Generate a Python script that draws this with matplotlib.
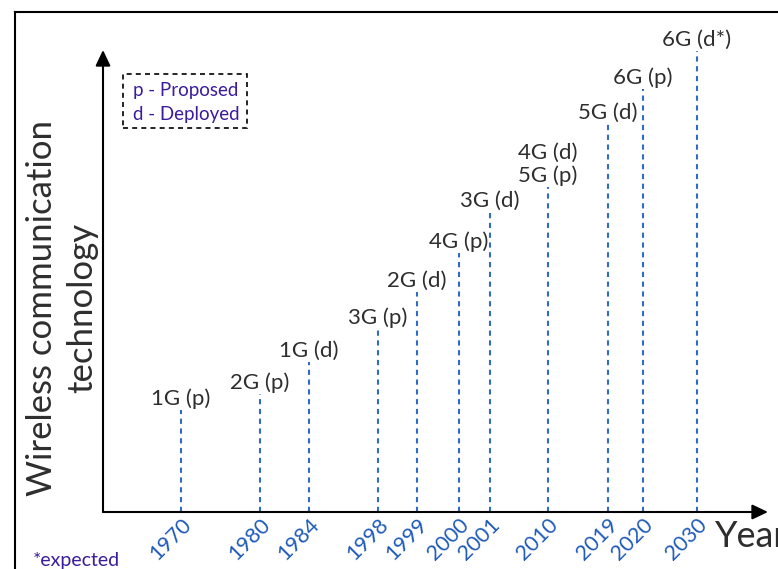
import matplotlib
matplotlib.use("Agg")
import matplotlib.pyplot as plt
from matplotlib.lines import Line2D
from matplotlib.patches import Rectangle

# timeline data
years = ["1970", "1980", "1984", "1998", "1999", "2000", "2001", "2010", "2019", "2020", "2030"]
labels = ["1G (p)", "2G (p)", "1G (d)", "3G (p)", "2G (d)", "4G (p)", "3G (d)",
          "4G (d)\n5G (p)", "5G (d)", "6G (p)", "6G (d*)"]
# position of each year along the (non-linear) timeline
slot = [78, 157, 206, 275, 314, 356, 387, 445, 505, 540, 594]
# height of each marker line (technology level)
level = [102, 118, 150, 183, 220, 259, 300, 325, 388, 423, 461]

W, H = 778, 569
plt.rcParams["font.family"] = ["Lato", "DejaVu Sans"]
blue_line = "#2f6cc4"
blue_text = "#1f5bb8"
purple = "#3b1c9c"
grey = "#2e2e2e"

fig = plt.figure(figsize=(W / 100, H / 100), dpi=100)
ax = fig.add_axes([103 / W, 1 - 512 / H, (768 - 103) / W, (512 - 50) / H])
ax.set_xlim(0, 665)
ax.set_ylim(0, 462)
for s in ax.spines.values():
    s.set_visible(False)
ax.set_yticks([])

# dashed year markers + labels
for x, h, lab in zip(slot, level, labels):
    ax.plot([x, x], [0, h], color=blue_line, lw=1.5, linestyle=(0, (2.5, 2.2)))
    ax.annotate(lab, (x, h), xytext=(0, 0.5), textcoords="offset points",
                ha="center", va="bottom", fontsize=16, color=grey, linespacing=1.15)

ax.set_xticks(slot, labels=years)
ax.tick_params(axis="x", length=0, pad=2)
for t in ax.get_xticklabels():
    t.set_rotation(45)
    t.set_rotation_mode("anchor")
    t.set_ha("right")
    t.set_va("top")
    t.set_color(blue_text)
    t.set_fontsize(15.5)

# axes arrows
arrow = dict(arrowstyle="-|>,head_length=0.95,head_width=0.45", lw=1.5, color="black",
             shrinkA=0, shrinkB=0, mutation_scale=10)
ax.annotate("", xy=(0, 1), xytext=(0, 0), xycoords="axes fraction", arrowprops=arrow,
            annotation_clip=False)
ax.annotate("", xy=(1, 0), xytext=(0, 0), xycoords="axes fraction", arrowprops=arrow,
            annotation_clip=False)

# axis titles
fig.text(62 / W, 1 - 308 / H, "Wireless communication\ntechnology", rotation=90,
         ha="center", va="center", multialignment="center", fontsize=25, color=grey,
         linespacing=1.32)
fig.text(715 / W, 1 - 547 / H, "Year", ha="left", va="baseline", fontsize=26, color=grey)
fig.text(33 / W, 1 - 566 / H, "*expected", ha="left", va="baseline", fontsize=14, color=purple)

# legend box
fig.patches.append(Rectangle((123 / W, 1 - 128 / H), 124 / W, 54 / H, transform=fig.transFigure,
                             fill=False, edgecolor="black", lw=1.2, linestyle=(0, (3, 2.5))))
fig.text(133 / W, 1 - 96 / H, "p - Proposed", ha="left", va="baseline", fontsize=13.5, color=purple)
fig.text(133 / W, 1 - 120 / H, "d - Deployed", ha="left", va="baseline", fontsize=13.5, color=purple)

# outer frame (left and top edges visible)
fig.lines.append(Line2D([15 / W, 15 / W], [0, 1 - 12 / H], transform=fig.transFigure, color="black", lw=1.5))
fig.lines.append(Line2D([15 / W, 1], [1 - 12 / H, 1 - 12 / H], transform=fig.transFigure, color="black", lw=1.5))

fig.savefig("out.png", dpi=100)
